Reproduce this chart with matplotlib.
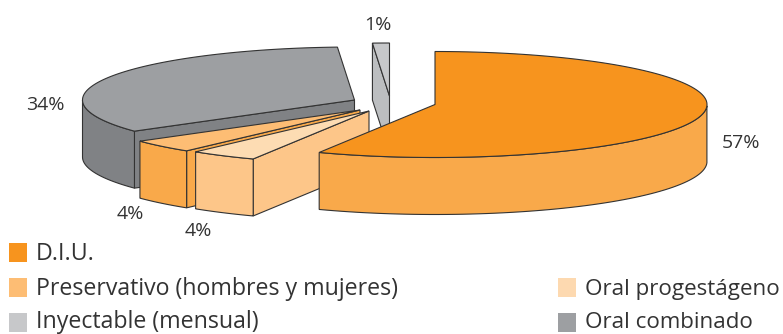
import numpy as np
import matplotlib
matplotlib.use('Agg')
import matplotlib.pyplot as plt
from matplotlib.patches import Polygon, Rectangle

# Data, clockwise from the top of the pie
slices = ['D.I.U.', 'Oral progestágeno', 'Preservativo (hombres y mujeres)',
          'Oral combinado', 'Inyectable (mensual)']
values = [57, 4, 4, 34, 1]

# Legend order
legend_names = ['D.I.U.', 'Preservativo (hombres y mujeres)', 'Oral progestágeno',
                'Inyectable (mensual)', 'Oral combinado']
legend_colors = ['#f7941e', '#fdbd74', '#fdd9b0', '#c7c8ca', '#9d9fa2']
legend_x = [8, 8, 557, 8, 557]
legend_y = [253, 288, 288, 323, 323]
legend_text_y = [254, 289, 289, 322, 322]
legend_size = [16.7, 16.7, 16.1, 16.7, 16.1]

# Look of each slice
centers = [(435, 104.5), (369, 111), (360, 110), (354.5, 100), (389.5, 96)]
tops = ['#f7941e', '#fddcb3', '#fdbd74', '#9d9fa2', '#c7c8ca']
sides = ['#f9a94a', '#fdc689', '#f9a94a', '#808285', '#bcbec0']
draw_order = [3, 4, 2, 1, 0]
RX, RY, DEPTH = 272, 53, 57
EDGE = '#333333'

label_text = ['57%', '4%', '4%', '34%', '1%']
label_pos = [(741, 143), (198, 231), (130, 214), (45, 105), (378, 25)]

fig = plt.figure(figsize=(7.83, 3.34), dpi=100)
ax = fig.add_axes([0, 0, 1, 1])
ax.set_xlim(0, 783)
ax.set_ylim(334, 0)
ax.axis('off')


def rim(center, ang):
    # screen point on the ellipse, y runs downward
    return np.column_stack([center[0] + RX * np.cos(ang), center[1] - RY * np.sin(ang)])


def extrude(pts):
    low = pts[::-1] + np.array([0, DEPTH])
    return np.vstack([pts, low])


def draw_slice(i, start):
    span = values[i] / sum(values) * 2 * np.pi
    end = start - span
    c = np.array(centers[i], dtype=float)
    ang = np.linspace(start, end, 120)
    arc = rim(c, ang)
    # radial walls, only those that face the viewer
    if np.sin(start + np.pi / 2) < -1e-6:
        ax.add_patch(Polygon(extrude(np.vstack([c, rim(c, np.array([start]))])),
                             fc=sides[i], ec=EDGE, lw=0.8))
    if np.sin(end - np.pi / 2) < -1e-6:
        ax.add_patch(Polygon(extrude(np.vstack([c, rim(c, np.array([end]))])),
                             fc=sides[i], ec=EDGE, lw=0.8))
    # outer wall, front half only
    front = np.sin(ang) < 0
    if front.sum() > 1:
        ax.add_patch(Polygon(extrude(arc[front]), fc=sides[i], ec=EDGE, lw=0.8))
    ax.add_patch(Polygon(np.vstack([c, arc]), fc=tops[i], ec=EDGE, lw=0.8))


starts = np.pi / 2 - np.cumsum([0] + values[:-1]) / sum(values) * 2 * np.pi
for i in draw_order:
    draw_slice(i, starts[i])

for t, (x, y) in zip(label_text, label_pos):
    ax.text(x, y, t, ha='center', va='center', fontsize=14, color='#333333',
            family='Open Sans')

for name, col, x, y, ty, fs in zip(legend_names, legend_colors, legend_x, legend_y,
                                   legend_text_y, legend_size):
    ax.add_patch(Rectangle((x + 1, y - 10), 18, 19, fc=col, ec='none'))
    ax.text(x + 28, ty, name, ha='left', va='center', fontsize=fs, color='#333333',
            family='Open Sans')

fig.savefig('out.png', dpi=100)
